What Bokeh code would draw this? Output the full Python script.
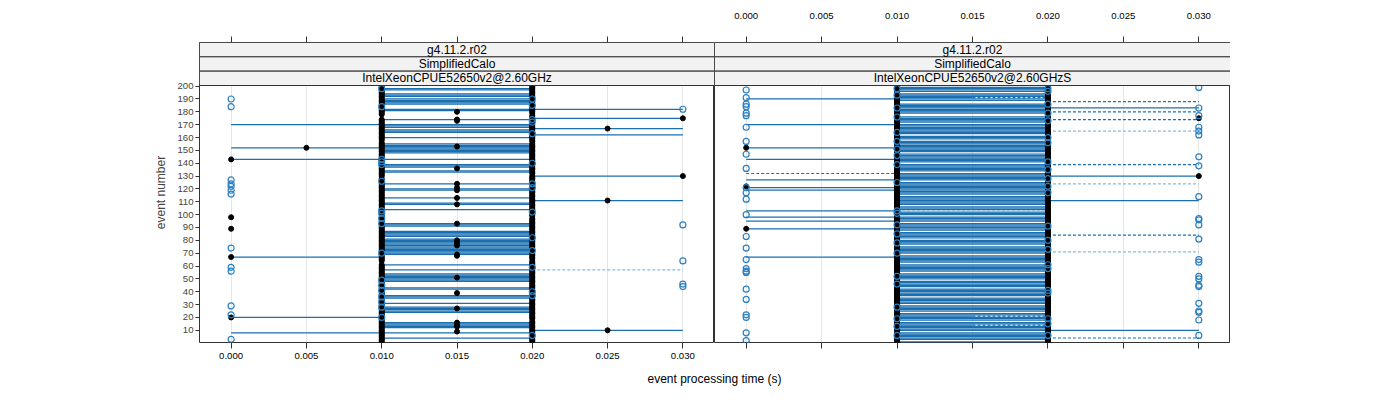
from bokeh.plotting import figure
from bokeh.models import (Range1d, FixedTicker, LinearAxis, Grid, Label,
                          PrintfTickFormatter, CustomJSTickFormatter)
from bokeh.layouts import column, row
from bokeh.embed import file_html
from bokeh.resources import INLINE
from bokeh.core.properties import value

# ---------------------------------------------------------------- data
x_ticks = [0.000, 0.005, 0.010, 0.015, 0.020, 0.025, 0.030]
y_ticks = [10, 20, 30, 40, 50, 60, 70, 80, 90, 100,
           110, 120, 130, 140, 150, 160, 170, 180, 190, 200]
x_title = "event processing time (s)"
y_title = "event number"
strip_left = ["g4.11.2.r02", "SimplifiedCalo", "IntelXeonCPUE52650v2@2.60GHz"]
strip_right = ["g4.11.2.r02", "SimplifiedCalo", "IntelXeonCPUE52650v2@2.60GHzS"]

# ---- left panel (IntelXeonCPUE52650v2@2.60GHz)
a_mid_start = 0.010
a_mid_end = 0.020
a_mid_events = [198, 197, 194, 193, 192, 190, 189, 188, 187, 186, 182, 181, 174, 170,
                169, 168, 166, 165, 164, 160, 155, 154, 153, 151, 150, 149, 148, 139,
                138, 137, 134, 133, 124, 120, 119, 113, 109, 108, 104, 93, 92, 91, 87,
                86, 85, 84, 83, 81, 80, 79, 78, 77, 76, 75, 74, 73, 72, 71, 70, 69, 61,
                57, 54, 53, 52, 51, 50, 49, 48, 43, 42, 37, 36, 35, 31, 28, 27, 26, 25,
                24, 16, 15, 14, 13, 12, 4]
a_long_event = [170, 152, 143, 67, 20, 8, 182, 175, 167, 162, 130, 111, 57, 10]
a_long_start = [0.000, 0.000, 0.000, 0.000, 0.000, 0.000, 0.020, 0.020, 0.020, 0.020,
                0.020, 0.020, 0.020, 0.020]
a_long_end = [0.010, 0.020, 0.020, 0.010, 0.010, 0.020, 0.030, 0.030, 0.030, 0.030,
              0.030, 0.030, 0.030, 0.030]
a_long_style = ["solid", "solid", "solid", "solid", "solid", "solid", "solid", "solid",
                "solid", "solid", "solid", "solid", "light", "solid"]

a_black_000 = [20, 67, 89, 98, 143]
a_black_005 = [152]
a_black_010 = [1, 2, 3, 4, 5, 6, 7, 8, 9, 10, 11, 12, 13, 14, 15, 16, 17, 18, 19, 20,
               21, 22, 23, 24, 25, 26, 27, 28, 29, 30, 31, 32, 33, 34, 35, 36, 37, 38,
               39, 40, 41, 42, 43, 44, 45, 46, 47, 48, 49, 50, 51, 52, 53, 54, 55, 56,
               57, 58, 59, 60, 61, 64, 65, 66, 67, 68, 69, 70, 71, 72, 73, 74, 75, 76,
               77, 78, 79, 80, 81, 82, 83, 84, 85, 86, 87, 88, 89, 90, 91, 92, 93, 94,
               95, 96, 97, 98, 99, 100, 101, 102, 103, 104, 105, 106, 107, 108, 109,
               110, 111, 112, 113, 114, 115, 116, 117, 118, 119, 120, 121, 122, 123,
               124, 125, 126, 127, 128, 130, 131, 132, 133, 134, 135, 136, 137, 138,
               139, 140, 141, 142, 143, 144, 145, 146, 147, 148, 149, 150, 151, 152,
               153, 154, 155, 156, 158, 159, 160, 161, 162, 163, 164, 165, 166, 167,
               168, 169, 170, 171, 172, 173, 174, 178, 179, 180, 181, 182, 183, 184,
               185, 186, 187, 188, 189, 190, 191, 192, 193, 194, 195, 196, 197, 198,
               199, 200]
a_black_015 = [180, 174, 173, 153, 136, 124, 121, 119, 113, 108, 93, 80, 78, 76, 69,
               68, 51, 39, 27, 16, 15, 14, 13, 9]
a_black_020 = [1, 2, 3, 4, 5, 6, 7, 8, 9, 10, 11, 12, 13, 14, 15, 16, 17, 19, 20, 21,
               22, 23, 24, 25, 26, 27, 28, 29, 30, 31, 32, 33, 34, 35, 36, 37, 38, 39,
               40, 41, 42, 43, 44, 45, 46, 47, 48, 49, 50, 51, 52, 53, 54, 55, 56, 57,
               58, 59, 60, 61, 62, 63, 64, 66, 67, 68, 69, 70, 71, 72, 73, 74, 75, 76,
               77, 78, 79, 80, 81, 82, 83, 84, 85, 86, 87, 88, 89, 90, 91, 92, 93, 94,
               95, 96, 97, 99, 100, 101, 102, 103, 104, 105, 106, 107, 108, 109, 110,
               111, 112, 113, 114, 115, 116, 117, 118, 119, 120, 121, 122, 123, 124,
               125, 126, 127, 128, 129, 130, 132, 133, 134, 135, 136, 137, 138, 139,
               140, 141, 142, 143, 144, 145, 146, 147, 148, 149, 150, 151, 152, 153,
               154, 155, 157, 158, 159, 160, 161, 162, 163, 164, 165, 166, 167, 168,
               169, 170, 172, 173, 174, 175, 176, 177, 179, 180, 181, 182, 183, 184,
               185, 186, 187, 188, 189, 190, 191, 192, 193, 194, 195, 196, 197, 198,
               199, 200]
a_black_025 = [167, 111, 10]
a_black_030 = [175, 130]

a_blue_000 = [3, 22, 29, 56, 59, 74, 116, 119, 122, 124, 127, 184, 190]
a_blue_010 = [198, 184, 143, 141, 139, 126, 103, 101, 97, 93, 70, 49, 45, 41, 36, 32,
              28, 20]
a_blue_020 = [190, 185, 174, 172, 163, 140, 124, 121, 102, 82, 72, 59, 40, 37, 6]
a_blue_030 = [44, 46, 64, 92, 182]

# ---- right panel (IntelXeonCPUE52650v2@2.60GHzS)
b_mid_start = 0.010
b_mid_end = 0.020
b_mid_events = [1, 3, 4, 5, 6, 7, 8, 10, 11, 12, 13, 15, 16, 18, 19, 20, 22, 23, 25,
                26, 27, 28, 29, 31, 32, 33, 34, 35, 37, 38, 39, 40, 41, 42, 44, 45, 46,
                47, 48, 50, 51, 52, 53, 54, 56, 57, 58, 59, 60, 61, 63, 64, 65, 66, 67,
                68, 70, 71, 72, 73, 74, 75, 77, 78, 79, 80, 82, 83, 84, 85, 86, 88, 89,
                90, 91, 92, 93, 95, 96, 97, 98, 100, 101, 102, 104, 105, 106, 108, 109,
                110, 111, 112, 113, 114, 116, 117, 118, 119, 120, 121, 122, 123, 124,
                125, 127, 128, 129, 130, 131, 132, 134, 135, 136, 137, 138, 139, 141,
                142, 143, 144, 145, 146, 147, 149, 150, 151, 152, 153, 154, 155, 156,
                157, 159, 160, 161, 163, 164, 165, 166, 167, 168, 169, 170, 172, 173,
                174, 175, 176, 179, 180, 181, 182, 183, 184, 185, 186, 189, 190, 192,
                193, 194, 196, 197, 198, 199]
b_long_event = [190, 170, 152, 143, 132, 127, 121, 119, 103, 98, 95, 89, 67,
                191, 191, 103, 21, 21, 14, 14,
                188, 183, 180, 174, 165, 139, 130, 124, 111, 84, 71, 10, 4]
b_long_start = [0.000, 0.000, 0.000, 0.000, 0.000, 0.000, 0.000, 0.000, 0.000, 0.000,
                0.000, 0.000, 0.000,
                0.010, 0.015, 0.010, 0.010, 0.015, 0.010, 0.015,
                0.020, 0.020, 0.020, 0.020, 0.020, 0.020, 0.020, 0.020, 0.020, 0.020,
                0.020, 0.020, 0.020]
b_long_end = [0.010, 0.010, 0.010, 0.010, 0.010, 0.010, 0.010, 0.010, 0.010, 0.010,
              0.010, 0.010, 0.010,
              0.015, 0.020, 0.020, 0.015, 0.020, 0.015, 0.020,
              0.030, 0.030, 0.030, 0.030, 0.030, 0.030, 0.030, 0.030, 0.030, 0.030,
              0.030, 0.030, 0.030]
b_long_style = ["solid", "solid", "solid", "solid", "dashed", "solid", "solid", "solid",
                "solid", "solid", "solid", "solid", "solid",
                "solid", "dashed", "light", "solid", "dashed", "solid", "dashed",
                "dashed", "solid", "dashed", "dashed", "light", "dashed", "solid",
                "light", "solid", "dashed", "light", "solid", "dashed"]

b_black_000 = [152, 122, 89]
b_black_010 = [1, 2, 3, 4, 5, 6, 7, 8, 9, 10, 11, 12, 13, 14, 15, 16, 17, 18, 19, 20,
               21, 22, 23, 24, 25, 26, 27, 28, 29, 30, 31, 32, 33, 34, 35, 36, 37, 38,
               39, 40, 41, 42, 43, 44, 45, 46, 47, 48, 49, 50, 51, 52, 53, 54, 55, 56,
               57, 58, 59, 60, 61, 62, 63, 64, 65, 66, 67, 68, 69, 70, 71, 72, 73, 74,
               75, 76, 77, 78, 79, 80, 81, 82, 83, 84, 85, 86, 87, 88, 89, 90, 91, 92,
               93, 94, 95, 96, 97, 98, 99, 100, 101, 102, 103, 104, 105, 106, 107, 108,
               109, 110, 111, 112, 113, 114, 115, 116, 117, 118, 119, 120, 121, 122,
               123, 124, 125, 126, 127, 128, 129, 130, 131, 132, 133, 134, 135, 136,
               137, 138, 139, 141, 142, 143, 144, 145, 146, 147, 148, 149, 150, 151,
               152, 153, 154, 155, 156, 157, 158, 159, 160, 161, 162, 163, 164, 165,
               166, 167, 168, 169, 170, 171, 172, 173, 174, 175, 176, 177, 178, 179,
               180, 181, 182, 183, 184, 185, 186, 187, 188, 189, 190, 191, 192, 193,
               194, 195, 196, 197, 198, 200]
b_black_020 = [1, 2, 3, 4, 5, 6, 7, 8, 9, 10, 11, 12, 13, 14, 15, 16, 17, 18, 19, 20,
               21, 22, 23, 24, 25, 26, 27, 28, 29, 30, 31, 32, 33, 34, 35, 36, 37, 38,
               39, 40, 41, 42, 43, 44, 45, 46, 47, 48, 49, 50, 51, 52, 53, 54, 55, 56,
               57, 58, 59, 60, 61, 62, 63, 64, 65, 66, 67, 68, 69, 70, 71, 72, 73, 74,
               75, 76, 77, 78, 79, 80, 81, 82, 83, 84, 85, 86, 87, 88, 89, 90, 91, 92,
               93, 94, 95, 96, 97, 98, 99, 100, 101, 102, 103, 104, 105, 106, 107, 108,
               109, 110, 111, 113, 114, 115, 116, 117, 118, 119, 120, 121, 122, 123,
               124, 125, 126, 127, 128, 129, 130, 131, 132, 133, 134, 135, 136, 137,
               138, 139, 140, 141, 142, 143, 144, 145, 146, 147, 148, 149, 150, 151,
               152, 153, 154, 155, 156, 157, 158, 159, 160, 161, 162, 163, 164, 165,
               166, 168, 169, 170, 171, 172, 173, 174, 175, 176, 177, 178, 179, 180,
               181, 182, 183, 184, 185, 186, 187, 188, 189, 190, 191, 192, 193, 194,
               195, 196, 197, 198, 199]
b_black_030 = [175, 130]

b_blue_000 = [197, 191, 186, 184, 179, 177, 168, 157, 147, 136, 121, 117, 112, 100, 83,
              74, 65, 58, 56, 55, 42, 34, 22, 20, 8, 2]
b_blue_010 = [198, 193, 183, 176, 164, 157, 151, 146, 139, 125, 103, 101, 92, 85, 78,
              70, 52, 46, 28, 19, 13, 6]
b_blue_020 = [198, 196, 186, 179, 173, 160, 156, 141, 135, 128, 122, 117, 91, 80, 73,
              61, 58, 41, 39, 19, 15, 6]
b_blue_030 = [199, 183, 177, 168, 165, 162, 145, 138, 114, 97, 96, 92, 81, 65, 63, 52,
              50, 45, 44, 31, 25, 24, 18, 6]

# ---------------------------------------------------------------- styling
FONT = "Liberation Sans"
LINE = "#1a6fb0"
LIGHT = "#86bae2"
CIRCLE = "#2a80c2"
X0, X1 = -0.0021, 0.0321
FRAME_H = 300
DATA_H = 257
Y0 = 0.5
DATA_TOP = 200.5
Y1 = Y0 + (DATA_TOP - Y0) * FRAME_H / DATA_H
SH = (Y1 - DATA_TOP) / 3.0
TOP_B, BOT_B = 42, 26
LEFT_B = 199


def x_axis(show_labels, standoff):
    ax = LinearAxis(ticker=FixedTicker(ticks=x_ticks))
    ax.axis_line_color = None
    ax.major_tick_line_color = "#333333"
    ax.major_tick_out = 6
    ax.major_tick_in = 0
    ax.minor_tick_line_color = None
    ax.major_label_text_font = FONT
    ax.major_label_text_font_size = "9.6px"
    ax.major_label_text_color = "#000000"
    ax.major_label_standoff = standoff
    if show_labels:
        ax.formatter = PrintfTickFormatter(format="%.3f")
    else:
        ax.formatter = CustomJSTickFormatter(code="return '';")
    return ax


def make_panel(strips, mid_start, mid_end, mid_events, long_event, long_start,
               long_end, long_style, black_cols, blue_cols, left):
    width = LEFT_B + 515 if left else 516
    p = figure(width=width, height=TOP_B + FRAME_H + BOT_B,
               x_range=Range1d(X0, X1), y_range=Range1d(Y0, Y1),
               x_axis_location=None, y_axis_location=None,
               output_backend="svg", toolbar_location=None,
               min_border_left=LEFT_B if left else 0, min_border_right=0,
               min_border_top=TOP_B, min_border_bottom=BOT_B)
    p.grid.visible = False
    p.outline_line_color = "#333333"
    p.outline_line_width = 1
    p.background_fill_color = "white"
    p.border_fill_color = "white"

    p.add_layout(Grid(dimension=0, ticker=FixedTicker(ticks=x_ticks),
                      grid_line_color="#e6e6e6", grid_line_width=1))

    # axes
    p.add_layout(x_axis(left, 4), "below")
    p.add_layout(x_axis(not left, 18), "above")
    if left:
        ya = LinearAxis(ticker=FixedTicker(ticks=y_ticks), axis_label=y_title)
        ya.axis_line_color = None
        ya.major_tick_line_color = "#333333"
        ya.major_tick_out = 4
        ya.major_tick_in = 0
        ya.minor_tick_line_color = None
        ya.major_label_text_font = FONT
        ya.major_label_text_font_size = "9.6px"
        ya.major_label_standoff = 2
        ya.axis_label_text_font = FONT
        ya.axis_label_text_font_size = "12px"
        ya.axis_label_text_font_style = "normal"
        ya.axis_label_standoff = 6
        p.add_layout(ya, "left")

    # segments
    groups = {"solid": ([], [], []), "dashed": ([], [], []), "light": ([], [], [])}
    for e in mid_events:
        g = groups["solid"]
        g[0].append(mid_start); g[1].append(mid_end); g[2].append(e)
    for e, s, t, st in zip(long_event, long_start, long_end, long_style):
        g = groups[st]
        g[0].append(s); g[1].append(t); g[2].append(e)

    xs, xe, ev = groups["solid"]
    p.segment(x0=xs, y0=ev, x1=xe, y1=ev, line_color=LINE, line_width=1.25)
    xs, xe, ev = groups["dashed"]
    if ev:
        p.segment(x0=xs, y0=ev, x1=xe, y1=ev, line_color=LINE, line_width=1.2,
                  line_dash="3 2")
    xs, xe, ev = groups["light"]
    if ev:
        p.segment(x0=xs, y0=ev, x1=xe, y1=ev, line_color=LIGHT, line_width=1.2,
                  line_dash="3 2")

    # points
    bx, by = [], []
    for t, evs in black_cols:
        for e in evs:
            bx.append(t); by.append(e)
    p.scatter(x=bx, y=by, marker="circle", size=5, fill_color="black",
              line_color="black")
    cx, cy = [], []
    for t, evs in blue_cols:
        for e in evs:
            cx.append(t); cy.append(e)
    p.scatter(x=cx, y=cy, marker="circle", size=6, fill_color=None,
              line_color=CIRCLE, line_width=1.2)

    # strips (top to bottom)
    sb, st_, sy, stxt = [], [], [], []
    for k, lab in enumerate(strips):
        j = len(strips) - 1 - k
        b = DATA_TOP + j * SH
        sb.append(b); st_.append(b + SH); sy.append(b + SH / 2.0); stxt.append(lab)
    p.quad(left=[X0] * len(sb), right=[X1] * len(sb), bottom=sb, top=st_,
           fill_color="#f2f2f2", line_color="#333333", line_width=1)
    p.text(x=[(X0 + X1) / 2.0] * len(sy), y=sy, text=stxt,
           text_font=value(FONT), text_font_size=value("12px"),
           text_align="center", text_baseline="middle", text_color="#000000")
    return p


pL = make_panel(strip_left, a_mid_start, a_mid_end, a_mid_events, a_long_event,
                a_long_start, a_long_end, a_long_style,
                [(0.000, a_black_000), (0.005, a_black_005), (0.010, a_black_010),
                 (0.015, a_black_015), (0.020, a_black_020), (0.025, a_black_025),
                 (0.030, a_black_030)],
                [(0.000, a_blue_000), (0.010, a_blue_010), (0.020, a_blue_020),
                 (0.030, a_blue_030)], True)
pR = make_panel(strip_right, b_mid_start, b_mid_end, b_mid_events, b_long_event,
                b_long_start, b_long_end, b_long_style,
                [(0.000, b_black_000), (0.010, b_black_010), (0.020, b_black_020),
                 (0.030, b_black_030)],
                [(0.000, b_blue_000), (0.010, b_blue_010), (0.020, b_blue_020),
                 (0.030, b_blue_030)], False)

pT = figure(width=1230, height=30, x_range=Range1d(0, 1230), y_range=Range1d(0, 30),
            x_axis_location=None, y_axis_location=None, output_backend="svg",
            toolbar_location=None, min_border=0)
pT.outline_line_color = None
pT.grid.visible = False
pT.add_layout(Label(x=714, y=20, text=x_title, text_font=FONT,
                    text_font_size="12px", text_align="center",
                    text_baseline="middle", text_color="#000000"))

layout = column(row(pL, pR), pT)
open("out.html", "w").write(file_html(layout, INLINE))
